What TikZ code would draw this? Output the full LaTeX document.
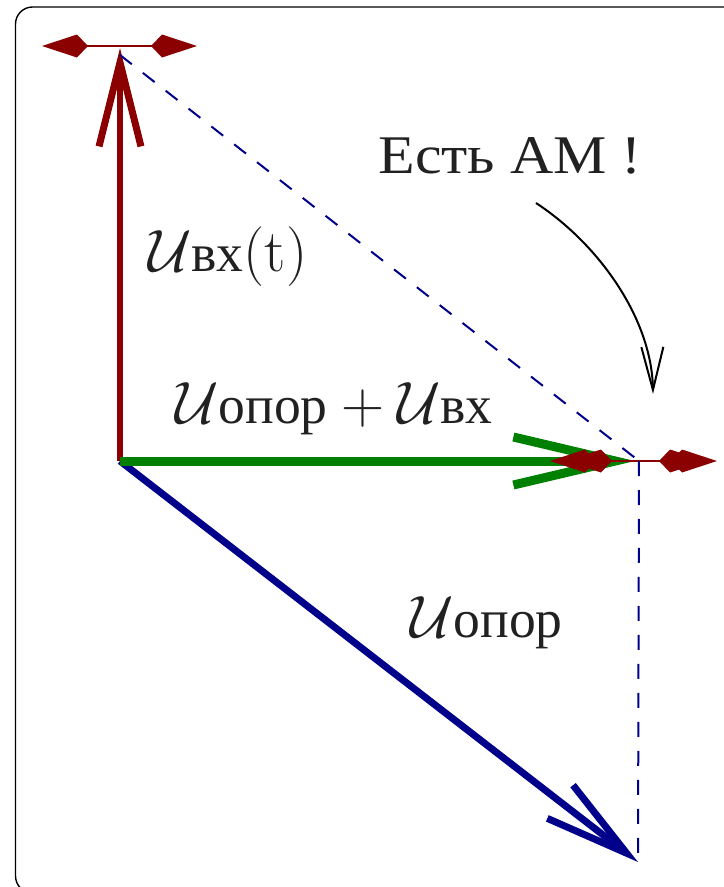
\RequirePackage{fix-cm}
\documentclass[tikz,border=0pt]{standalone}
\usepackage{amsmath}
\usepackage{fontspec}
\newfontfamily\cyr{Liberation Serif}
\newfontfamily\cyrw[FakeStretch=1.1]{Liberation Serif}
\usetikzlibrary{arrows.meta}
\definecolor{dred}{RGB}{139,0,0}
\definecolor{dgreen}{RGB}{0,128,0}
\definecolor{dblue}{RGB}{0,0,139}
\newcommand{\bigU}{$\mathcal{U}$}
\newcommand{\sub}[1]{{\fontsize{30.5}{35}\selectfont\cyr #1}}
\tikzset{
  bigvec/.style={line width=0.14cm},
  barbtip/.style={arrows={-Straight Barb[length=1.68cm,width=0.84cm]}},
  kitepair/.style={line width=0.04cm, dred, arrows={Kite[length=0.92cm,width=0.46cm,inset=0.22cm]-Kite[length=0.92cm,width=0.46cm,inset=0.22cm]}},
  helpdash/.style={dblue, line width=0.04cm, dash pattern=on 0.3cm off 0.28cm},
  lbl/.style={font=\fontsize{34}{40}\selectfont, inner sep=0pt, text=black!87},
}
\begin{document}
\begin{tikzpicture}[x=0.02cm,y=-0.02cm]
\clip (0,0) rectangle (724,887);
% frame
\draw[line width=0.8pt, rounded corners=0.34cm] (15.5,7) rectangle (770,893);
% points
\coordinate (O) at (120,461);
\coordinate (A) at (120,48);
\coordinate (AL) at (42,46);
\coordinate (AR) at (197,46);
\coordinate (B) at (635,461);
\coordinate (BL) at (550,461);
\coordinate (BR) at (717,461);
\coordinate (BL2) at (566,461);
\coordinate (BR2) at (705,461);
\coordinate (P) at (639,461);
\coordinate (C) at (638,862);
\coordinate (D) at (120,55);
\coordinate (cs) at (536,203);
\coordinate (ce) at (653,394);
% vectors
\draw[bigvec, dred, barbtip] (O) -- (A);
\draw[bigvec, dblue, barbtip] (O) -- (C);
\draw[line width=0.18cm, dgreen, arrows={-Straight Barb[length=2.04cm,width=0.96cm]}] (O) -- (B);
% kite markers
\draw[kitepair] (AL) -- (AR);
\draw[kitepair] (BL) -- (BR);
\draw[kitepair] (BL2) -- (BR2);
% helper dashes
\draw[helpdash] (D) -- (P);
\draw[helpdash] (P) -- (C);
% labels
\node[lbl, anchor=base] (t1) at (510,173) {\fontsize{31}{36}\selectfont\cyrw Есть АМ !};
\node[lbl, anchor=base west] (t2) at (148,271) {\bigU\sub{вх}(t)};
\node[lbl, anchor=base west] (t3) at (175,423) {\bigU\sub{опор}${}+{}$\bigU\sub{вх}};
\node[lbl, anchor=base west] (t4) at (410,637) {\bigU\sub{опор}};
% curved pointer
\draw[line width=0.04cm, arrows={-Straight Barb[length=0.86cm,width=0.44cm]}] (cs) .. controls (600,245) and (652,320) .. (ce);
\end{tikzpicture}
\end{document}
